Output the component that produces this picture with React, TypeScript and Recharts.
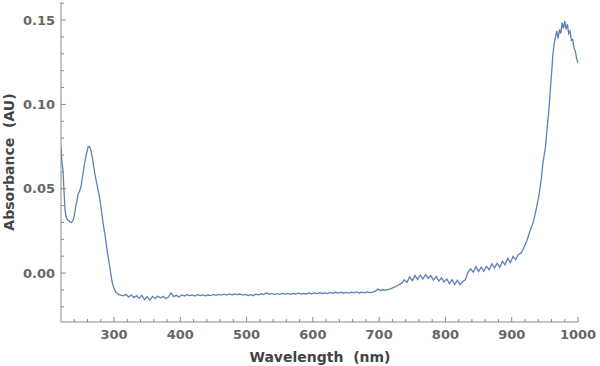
import React from "react";
import { LineChart, Line, XAxis, YAxis } from "recharts";

// UV band (nm, AU)
const uvBand: [number, number][] = [
  [220, 0.075], [221, 0.068], [222, 0.064], [223, 0.061], [224, 0.053], [225, 0.045],
  [226, 0.038], [227, 0.035], [228, 0.033], [230, 0.0315], [232, 0.031], [234, 0.0302],
  [236, 0.03], [238, 0.031], [240, 0.034], [242, 0.039], [244, 0.043], [246, 0.047],
  [248, 0.0485], [250, 0.051], [252, 0.056], [254, 0.061], [256, 0.066], [258, 0.07],
  [260, 0.0735], [261, 0.0748], [263, 0.075], [265, 0.073], [267, 0.069], [269, 0.064],
  [271, 0.059], [273, 0.055], [275, 0.051], [277, 0.047], [279, 0.043], [281, 0.037],
  [283, 0.031], [285, 0.026], [287, 0.021], [289, 0.015], [291, 0.01], [293, 0.005],
  [295, 0.0], [297, -0.005], [299, -0.008], [301, -0.01], [303, -0.0115], [305, -0.012],
  [307, -0.0128],
];

// flat baseline region
const baseline: [number, number][] = [
  [310, -0.013], [314, -0.0135], [318, -0.0126], [322, -0.0142], [326, -0.013], [330, -0.0145],
  [334, -0.0134], [338, -0.015], [342, -0.0132], [346, -0.0158], [350, -0.014], [354, -0.016],
  [358, -0.0138], [362, -0.0152], [366, -0.0136], [370, -0.0148], [374, -0.0138], [378, -0.0152],
  [382, -0.0142], [386, -0.0118], [390, -0.014], [394, -0.0132], [398, -0.0142], [402, -0.013],
  [406, -0.0136], [410, -0.0128], [414, -0.0134], [418, -0.013], [422, -0.0136], [426, -0.0128],
  [430, -0.0134], [434, -0.0129], [438, -0.0135], [442, -0.013], [446, -0.0133], [450, -0.0127],
  [454, -0.0132], [458, -0.0126], [462, -0.0131], [466, -0.0125], [470, -0.013], [474, -0.0124],
  [478, -0.0129], [482, -0.0123], [486, -0.0128], [490, -0.0124], [494, -0.0131], [498, -0.0126],
  [502, -0.0133], [506, -0.0128], [510, -0.0134], [514, -0.0125], [518, -0.0129], [522, -0.0122],
  [526, -0.0127], [530, -0.0117], [534, -0.0126], [538, -0.0121], [542, -0.0127], [546, -0.0122],
  [550, -0.0126], [554, -0.012], [558, -0.0125], [562, -0.0121], [566, -0.0126], [570, -0.012],
  [574, -0.0124], [578, -0.0119], [582, -0.0125], [586, -0.012], [590, -0.0124], [594, -0.0118],
  [598, -0.0123], [602, -0.0117], [606, -0.0122], [610, -0.0116], [614, -0.0121], [618, -0.0117],
  [622, -0.0122], [626, -0.0115], [630, -0.012], [634, -0.0114], [638, -0.0119], [642, -0.0113],
  [646, -0.0118], [650, -0.0114], [654, -0.0119], [658, -0.0113], [662, -0.0117], [666, -0.0112],
  [670, -0.0118], [674, -0.0113], [678, -0.0117], [682, -0.0112], [686, -0.0116], [690, -0.0113],
  [694, -0.0108], [698, -0.0095], [702, -0.0103], [706, -0.0099], [710, -0.0101], [714, -0.0096],
  [718, -0.0092], [722, -0.0085], [726, -0.0078], [730, -0.0068], [734, -0.006], [738, -0.004],
  [742, -0.0055], [746, -0.0022], [750, -0.0045], [754, -0.0015], [758, -0.0038], [762, -0.0012],
  [766, -0.0035], [770, -0.001], [774, -0.0032], [778, -0.0015], [782, -0.0042], [786, -0.002],
  [790, -0.0048], [794, -0.0028], [798, -0.0052], [802, -0.0035], [806, -0.0062], [810, -0.004],
  [814, -0.0068], [818, -0.0042], [822, -0.007], [826, -0.005], [830, -0.004],
];

// NIR rise
const nirEdge: [number, number][] = [
  [834, 0.0005], [838, 0.0025], [842, 0.0005], [846, 0.0038], [850, 0.001], [854, 0.0035],
  [858, 0.0012], [862, 0.004], [866, 0.002], [870, 0.0055], [874, 0.003], [878, 0.0058],
  [882, 0.0035], [886, 0.007], [890, 0.0048], [894, 0.0088], [898, 0.0062], [902, 0.0098],
  [906, 0.008], [910, 0.011], [914, 0.0118], [917, 0.014], [920, 0.0165], [923, 0.0195],
  [926, 0.023], [929, 0.0265], [932, 0.0295], [935, 0.034], [938, 0.04], [941, 0.046],
  [943, 0.051], [945, 0.057], [947, 0.065], [949, 0.07], [951, 0.075], [953, 0.084],
  [955, 0.092], [957, 0.101], [959, 0.1125], [961, 0.123], [962, 0.129], [964, 0.136],
  [966, 0.14], [968, 0.1435], [970, 0.139], [972, 0.1445], [974, 0.142], [976, 0.1485],
  [978, 0.145], [980, 0.1495], [982, 0.1445], [984, 0.1475], [986, 0.142], [988, 0.1435],
  [990, 0.138], [992, 0.1385], [994, 0.1335], [996, 0.1315], [998, 0.127], [1000, 0.1245],
];

const xMajorTicks = [300, 400, 500, 600, 700, 800, 900, 1000];
const xMinorTicks = [240, 260, 280, 320, 340, 360, 380, 420, 440, 460, 480, 520, 540, 560, 580,
  620, 640, 660, 680, 720, 740, 760, 780, 820, 840, 860, 880, 920, 940, 960, 980];
const yMajorTicks = [0, 0.05, 0.1, 0.15];
const yMajorLabels = ["0.00", "0.05", "0.10", "0.15"];
const yMinorTicks = [-0.02, -0.01, 0.01, 0.02, 0.03, 0.04, 0.06, 0.07, 0.08, 0.09, 0.11, 0.12,
  0.13, 0.14, 0.16];

const xTitle = "Wavelength\u00A0\u00A0(nm)";
const yTitle = "Absorbance\u00A0\u00A0(AU)";

const data = [...uvBand, ...baseline, ...nirEdge].map(([w, a]) => ({ w, a }));

const AXIS = "#8a8a8a";
const LABEL = "#666666";
const TITLE = "#444444";
const FONT = "'DejaVu Sans', sans-serif";

const XTick = (props: any) => {
  const { x, y, payload } = props;
  const v = payload.value;
  const major = xMajorTicks.includes(v);
  return (
    <g>
      <line x1={x} x2={x} y1={y} y2={y - (major ? 5 : 3)} stroke={AXIS} strokeWidth={1} />
      {major && (
        <text x={x} y={y + 12} textAnchor="middle" dominantBaseline="central"
          fontFamily={FONT} fontWeight="bold" fontSize={13} fill={LABEL}>{v}</text>
      )}
    </g>
  );
};

const YTick = (props: any) => {
  const { x, y, payload } = props;
  const v = payload.value;
  const idx = yMajorTicks.findIndex((m) => Math.abs(m - v) < 1e-9);
  const major = idx >= 0;
  return (
    <g>
      <line x1={x} x2={x + (major ? 5 : 3)} y1={y} y2={y} stroke={AXIS} strokeWidth={1} />
      {major && (
        <text x={x - 6} y={y} textAnchor="end" dominantBaseline="central"
          fontFamily={FONT} fontWeight="bold" fontSize={13} fill={LABEL}>{yMajorLabels[idx]}</text>
      )}
    </g>
  );
};

export default function App() {
  return (
    <div style={{ position: "absolute", left: 0, top: 0, width: 600, height: 366, background: "#fff" }}>
      <LineChart width={600} height={366} data={data}
        margin={{ top: 2, right: 22, bottom: 0, left: 0 }}>
        <XAxis type="number" dataKey="w" domain={[220, 1000]} allowDataOverflow
          ticks={[...xMinorTicks, ...xMajorTicks].sort((a, b) => a - b)}
          tick={<XTick />} tickLine={false} tickSize={0} tickMargin={0} height={44}
          stroke={AXIS} interval={0} />
        <YAxis type="number" domain={[-0.029, 0.1607]} allowDataOverflow
          ticks={[...yMinorTicks, ...yMajorTicks].sort((a, b) => a - b)}
          tick={<YTick />} tickLine={false} tickSize={0} tickMargin={0} width={61}
          stroke={AXIS} interval={0} />
        <Line type="linear" dataKey="a" stroke="#5E81B5" strokeWidth={1.3} dot={false}
          isAnimationActive={false} />
      </LineChart>
      <div style={{ position: "absolute", left: 220, top: 349, width: 200, lineHeight: "16px",
        textAlign: "center", fontFamily: FONT, fontWeight: "bold", fontSize: 14, color: TITLE }}>
        {xTitle}
      </div>
      <div style={{ position: "absolute", left: 8.5 - 100, top: 162 - 8, width: 200, height: 16,
        lineHeight: "16px", textAlign: "center", fontFamily: FONT, fontWeight: "bold", fontSize: 14,
        color: TITLE, transform: "rotate(-90deg)" }}>
        {yTitle}
      </div>
    </div>
  );
}
